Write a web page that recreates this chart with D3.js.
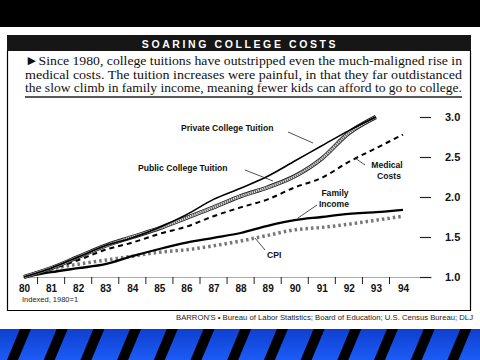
<!DOCTYPE html>
<html><head><meta charset="utf-8">
<script src="https://cdn.jsdelivr.net/npm/d3@7/dist/d3.min.js"></script>
<style>body{margin:0;background:#fff}svg{display:block}</style>
</head><body>
<svg id="c" width="480" height="360"></svg>
<script>
const years = [80,81,82,83,84,85,86,87,88,89,90,91,92,93,94];
const privateTuition = [1.00,1.11,1.25,1.39,1.49,1.62,1.78,1.97,2.11,2.26,2.45,2.64,2.83,3.00];
const publicTuition  = [1.00,1.11,1.25,1.39,1.50,1.61,1.74,1.87,2.01,2.12,2.26,2.48,2.80,3.00];
const medicalCosts   = [1.00,1.10,1.21,1.34,1.43,1.54,1.63,1.76,1.87,1.97,2.12,2.24,2.44,2.61,2.78];
const familyIncome   = [1.00,1.06,1.11,1.16,1.26,1.35,1.43,1.49,1.55,1.64,1.71,1.75,1.79,1.81,1.84];
const cpi            = [1.00,1.10,1.16,1.21,1.26,1.31,1.34,1.39,1.45,1.52,1.59,1.62,1.66,1.71,1.76];
const yTicks = [1.0,1.5,2.0,2.5,3.0];
const title = "SOARING COLLEGE COSTS";
const paragraph = [
 "\u25BASince 1980, college tuitions have outstripped even the much-maligned rise in",
 "medical costs.  The tuition increases were painful, in that they far outdistanced",
 "the slow climb in family income, meaning fewer kids can afford to go to college."
];
const source = "BARRON'S \u2022 Bureau of Labor Statistics; Board of Education; U.S. Census Bureau; DLJ";

const svg = d3.select("#c");
svg.append("rect").attr("x",0).attr("y",0).attr("width",480).attr("height",27).attr("fill","#000");
const defs = svg.append("defs");
const g1 = defs.append("linearGradient").attr("id","blue").attr("x1",0).attr("y1",0).attr("x2",0).attr("y2",1);
g1.append("stop").attr("offset","0%").attr("stop-color","#0f3fcf");
g1.append("stop").attr("offset","100%").attr("stop-color","#1b5cf6");
svg.append("rect").attr("x",0).attr("y",329).attr("width",480).attr("height",31).attr("fill","url(#blue)");
const stripes = d3.range(-1,15);
svg.append("g").selectAll("path").data(stripes).join("path")
  .attr("d",i=>{const x0=20+i*36.7; return `M${x0},329 L${x0+11},329 L${x0-2},360 L${x0-13},360 Z`;})
  .attr("fill","#000");

svg.append("rect").attr("x",7).attr("y",35).attr("width",464).attr("height",16).attr("fill","#161616");
svg.append("text").attr("x",240).attr("y",47.5).attr("text-anchor","middle")
  .attr("font-family","Liberation Sans, Arial, sans-serif").attr("font-weight","bold")
  .attr("font-size",10.5).attr("letter-spacing","2.6").attr("fill","#fff").text(title);

svg.append("path").attr("d","M7.5,51 L7.5,310.5 L470.5,310.5 L470.5,51").attr("fill","none").attr("stroke","#000").attr("stroke-width",1.2);

svg.append("g").selectAll("text").data(paragraph).join("text")
  .attr("x",25).attr("y",(d,i)=>65+i*13.5)
  .attr("textLength",437).attr("lengthAdjust","spacingAndGlyphs")
  .attr("font-family","Liberation Serif, Times New Roman, serif").attr("font-size",13.5)
  .attr("fill","#111").text(d=>d);
svg.append("line").attr("x1",25).attr("x2",462).attr("y1",97).attr("y2",97).attr("stroke","#222").attr("stroke-width",1.3);

const x = d3.scaleLinear().domain([80,94]).range([24,403]);
const y = d3.scaleLinear().domain([1,3]).range([277,117]);

svg.append("line").attr("x1",23).attr("x2",432).attr("y1",277.5).attr("y2",277.5).attr("stroke","#aaa").attr("stroke-width",1);

const xAxis = d3.axisBottom(x).tickValues(years).tickSize(0).tickPadding(7).tickFormat(d=>d);
const gx = svg.append("g").attr("transform","translate(0,278)").call(xAxis);
gx.select(".domain").remove();
gx.selectAll("text").attr("font-family","Liberation Sans, Arial, sans-serif").attr("font-weight","bold").attr("font-size",10).attr("fill","#111");
svg.append("g").selectAll("line").data(years.slice(1)).join("line")
  .attr("x1",d=>x(d)-13.5).attr("x2",d=>x(d)-13.5).attr("y1",277).attr("y2",284)
  .attr("stroke","#222").attr("stroke-width",1);

const yAxis = d3.axisRight(y).tickValues(yTicks).tickSize(11).tickPadding(14).tickFormat(d3.format(".1f"));
const gy = svg.append("g").attr("transform","translate(420,0)").call(yAxis);
gy.select(".domain").remove();
gy.selectAll("line").attr("stroke","#222").attr("stroke-width",1.2);
gy.selectAll("text").attr("font-family","Liberation Sans, Arial, sans-serif").attr("font-weight","bold").attr("font-size",11).attr("fill","#111");

const line = d3.line().x((d,i)=>x(years[i])).y(d=>y(d)).curve(d3.curveMonotoneX);
svg.append("path").attr("d",line(cpi)).attr("fill","none").attr("stroke","#777").attr("stroke-width",3.5).attr("stroke-dasharray","2.5,3");
svg.append("path").attr("d",line(familyIncome)).attr("fill","none").attr("stroke","#000").attr("stroke-width",2.3);
svg.append("path").attr("d",line(medicalCosts)).attr("fill","none").attr("stroke","#000").attr("stroke-width",2).attr("stroke-dasharray","5,4");
svg.append("path").attr("d",line(publicTuition)).attr("fill","none").attr("stroke","#222").attr("stroke-width",4.2);
svg.append("path").attr("d",line(publicTuition)).attr("fill","none").attr("stroke","#ddd").attr("stroke-width",2.4);
svg.append("path").attr("d",line(publicTuition)).attr("fill","none").attr("stroke","#555").attr("stroke-width",2.4).attr("stroke-dasharray","1,1.2");
svg.append("path").attr("d",line(privateTuition)).attr("fill","none").attr("stroke","#000").attr("stroke-width",1.6);

const lab = svg.append("g").attr("font-family","Liberation Sans, Arial, sans-serif").attr("font-weight","bold").attr("font-size",8.6).attr("fill","#111");
lab.append("text").attr("x",181).attr("y",130.5).text("Private College Tuition");
lab.append("text").attr("x",138).attr("y",170.5).text("Public College Tuition");
lab.append("text").attr("x",387).attr("y",168).attr("text-anchor","middle").text("Medical");
lab.append("text").attr("x",389).attr("y",179).attr("text-anchor","middle").text("Costs");
lab.append("text").attr("x",335).attr("y",196).attr("text-anchor","middle").text("Family");
lab.append("text").attr("x",334).attr("y",206.5).attr("text-anchor","middle").text("Income");
lab.append("text").attr("x",267).attr("y",258).text("CPI");
const leaders = [[288,132,313,143],[245,170,273,181],[355,158,365,165],[317,205,298,218],[255,238,265,250]];
svg.append("g").selectAll("line").data(leaders).join("line")
  .attr("x1",d=>d[0]).attr("y1",d=>d[1]).attr("x2",d=>d[2]).attr("y2",d=>d[3])
  .attr("stroke","#222").attr("stroke-width",0.8);

svg.append("text").attr("x",22).attr("y",302).attr("font-family","Liberation Sans, Arial, sans-serif").attr("font-size",7.5).attr("fill","#222").text("Indexed, 1980=1");
svg.append("text").attr("x",473).attr("y",319.5).attr("text-anchor","end").attr("textLength",297).attr("lengthAdjust","spacingAndGlyphs")
  .attr("font-family","Liberation Sans, Arial, sans-serif").attr("font-size",7.2).attr("fill","#222").text(source);
</script>
</body></html>
